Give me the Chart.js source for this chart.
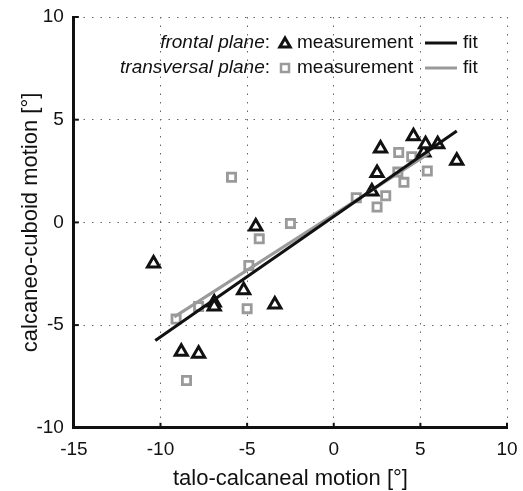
<!DOCTYPE html>
<html>
<head>
<meta charset="utf-8">
<script src="https://cdn.jsdelivr.net/npm/chart.js@4.4.1/dist/chart.umd.min.js"></script>
<style>
  html, body { margin: 0; padding: 0; background: #fff; }
  #wrap { width: 523px; height: 491px; }
</style>
</head>
<body>
<div id="wrap"><canvas id="myChart" width="523" height="491"></canvas></div>
<script>
// frontal plane measurements (triangles)
const frontalX = [-10.4, -8.8, -7.8, -6.9, -6.9, -5.2, -4.5, -3.4, 2.2, 2.5, 2.7, 4.6, 5.2, 5.3, 6.0, 7.1];
const frontalY = [-2.0, -6.3, -6.4, -3.9, -4.1, -3.3, -0.2, -4.0, 1.5, 2.4, 3.6, 4.2, 3.4, 3.8, 3.8, 3.0];
// transversal plane measurements (squares)
const transX = [-9.1, -8.5, -7.8, -5.9, -5.0, -4.9, -4.3, -2.5, 1.3, 2.5, 3.0, 3.7, 3.75, 4.05, 4.5, 5.4];
const transY = [-4.7, -7.7, -4.1, 2.2, -4.2, -2.1, -0.8, -0.05, 1.2, 0.75, 1.3, 2.45, 3.4, 1.95, 3.2, 2.5];
// linear fits
const frontalFitX = [-10.3, 7.1];
const frontalFitY = [-5.75, 4.45];
const transFitX = [-9.2, 5.5];
const transFitY = [-4.6, 3.35];
// axis ticks
const xTicks = [-15, -10, -5, 0, 5, 10];
const yTicks = [-10, -5, 0, 5, 10];

const FONT = "'Liberation Sans', Arial, sans-serif";
const GRAY = '#9a9a9a';

function pts(xs, ys) {
    return xs.map(function (x, i) { return { x: x, y: ys[i] }; });
}

function drawTri(ctx, x, y, r) {
    ctx.beginPath();
    for (let k = 0; k < 3; k++) {
        const a = k * 2 * Math.PI / 3;
        const px = x + Math.sin(a) * r, py = y - Math.cos(a) * r;
        if (k === 0) ctx.moveTo(px, py); else ctx.lineTo(px, py);
    }
    ctx.closePath();
    ctx.fillStyle = '#fff';
    ctx.fill();
    ctx.lineWidth = 3;
    ctx.strokeStyle = '#111';
    ctx.stroke();
}

// legend drawn inside the plot, top right
const legendText = {
    id: 'legendText',
    afterDatasetsDraw(chart) {
        const ctx = chart.ctx;
        const a = chart.chartArea;
        const rows = [
            { name: 'frontal plane', y: a.top + 26, col: '#111', tri: true },
            { name: 'transversal plane', y: a.top + 51, col: GRAY, tri: false },
        ];
        ctx.save();
        ctx.textBaseline = 'middle';
        rows.forEach(function (r) {
            const colonX = a.right - 237;
            ctx.fillStyle = '#111';
            ctx.textAlign = 'right';
            ctx.font = '19px ' + FONT;
            ctx.fillText(':', colonX, r.y);
            const cw = ctx.measureText(':').width;
            ctx.font = 'italic 19px ' + FONT;
            ctx.fillText(r.name, colonX - cw, r.y);
            // marker
            const mx = a.right - 222;
            if (r.tri) {
                drawTri(ctx, mx, r.y + 1, 6);
            } else {
                ctx.fillStyle = '#fff';
                ctx.strokeStyle = GRAY;
                ctx.lineWidth = 2.5;
                ctx.fillRect(mx - 4, r.y - 4, 8, 8);
                ctx.strokeRect(mx - 4, r.y - 4, 8, 8);
            }
            ctx.textAlign = 'left';
            ctx.font = '19px ' + FONT;
            ctx.fillStyle = '#111';
            ctx.fillText('measurement', a.right - 210, r.y);
            ctx.beginPath();
            ctx.moveTo(a.right - 82, r.y);
            ctx.lineTo(a.right - 50, r.y);
            ctx.lineWidth = 3;
            ctx.strokeStyle = r.col;
            ctx.stroke();
            ctx.fillText('fit', a.right - 44, r.y);
        });
        ctx.restore();
    }
};

// small inward ticks on the left and bottom axes
const innerTicks = {
    id: 'innerTicks',
    afterDraw(chart) {
        const ctx = chart.ctx;
        const xs = chart.scales.x, ys = chart.scales.y;
        ctx.save();
        ctx.strokeStyle = '#111';
        ctx.lineWidth = 2;
        xTicks.forEach(function (v) {
            const p = xs.getPixelForValue(v);
            ctx.beginPath();
            ctx.moveTo(p, ys.bottom);
            ctx.lineTo(p, ys.bottom - 5);
            ctx.stroke();
        });
        yTicks.forEach(function (v) {
            const p = ys.getPixelForValue(v);
            ctx.beginPath();
            ctx.moveTo(xs.left, p);
            ctx.lineTo(xs.left + 5, p);
            ctx.stroke();
        });
        ctx.restore();
    }
};

document.addEventListener("DOMContentLoaded", function () {

    const myChart = document.getElementById("myChart");

    new Chart(myChart, {
        type: "scatter",
        data: {
            datasets: [{
                type: 'line',
                label: 'frontal fit',
                data: pts(frontalFitX, frontalFitY),
                borderColor: '#111',
                borderWidth: 3,
                pointRadius: 0,
                order: 0,
            }, {
                type: 'line',
                label: 'transversal fit',
                data: pts(transFitX, transFitY),
                borderColor: GRAY,
                borderWidth: 3,
                pointRadius: 0,
                order: 1,
            }, {
                label: 'transversal measurement',
                data: pts(transX, transY),
                pointStyle: 'rect',
                pointRadius: 5.8,
                pointBorderWidth: 2.8,
                borderColor: GRAY,
                backgroundColor: '#fff',
                order: 3,
            }, {
                label: 'frontal measurement',
                data: pts(frontalX, frontalY),
                pointStyle: 'triangle',
                pointRadius: 7,
                pointBorderWidth: 3,
                borderColor: '#111',
                backgroundColor: '#fff',
                order: 2,
            }],
        },
        options: {
            responsive: false,
            animation: false,
            layout: {
                padding: { top: 17, right: 16, bottom: -1, left: 18 },
            },
            plugins: {
                legend: { display: false },
                tooltip: { enabled: false },
            },
            scales: {
                x: {
                    type: 'linear',
                    min: -15,
                    max: 10,
                    afterBuildTicks: function (axis) {
                        axis.ticks = xTicks.map(function (v) { return { value: v }; });
                    },
                    afterFit: function (axis) {
                        axis.paddingLeft = 0;
                        axis.paddingRight = 0;
                    },
                    ticks: {
                        color: '#111',
                        font: { family: FONT, size: 19 },
                        padding: 11,
                        maxRotation: 0,
                    },
                    grid: {
                        color: '#666',
                        lineWidth: 1,
                        drawTicks: false,
                        tickLength: 0,
                    },
                    border: {
                        color: '#111',
                        width: 3,
                        dash: [1.5, 7],
                    },
                    title: {
                        display: true,
                        text: 'talo-calcaneal motion [°]',
                        color: '#111',
                        font: { family: FONT, size: 22 },
                        padding: { top: -7, bottom: 0 },
                    },
                },
                y: {
                    type: 'linear',
                    min: -10,
                    max: 10,
                    afterBuildTicks: function (axis) {
                        axis.ticks = yTicks.map(function (v) { return { value: v }; });
                    },
                    afterFit: function (axis) {
                        axis.paddingTop = 0;
                        axis.paddingBottom = 0;
                    },
                    ticks: {
                        color: '#111',
                        font: { family: FONT, size: 19 },
                        padding: 10,
                    },
                    grid: {
                        color: '#666',
                        lineWidth: 1,
                        drawTicks: false,
                        tickLength: 0,
                    },
                    border: {
                        color: '#111',
                        width: 3,
                        dash: [1.5, 7],
                    },
                    title: {
                        display: true,
                        text: 'calcaneo-cuboid motion [°]',
                        color: '#111',
                        font: { family: FONT, size: 22 },
                        padding: { top: 0, bottom: -18 },
                    },
                },
            },
        },
        plugins: [legendText, innerTicks],
    });
});
</script>
</body>
</html>
